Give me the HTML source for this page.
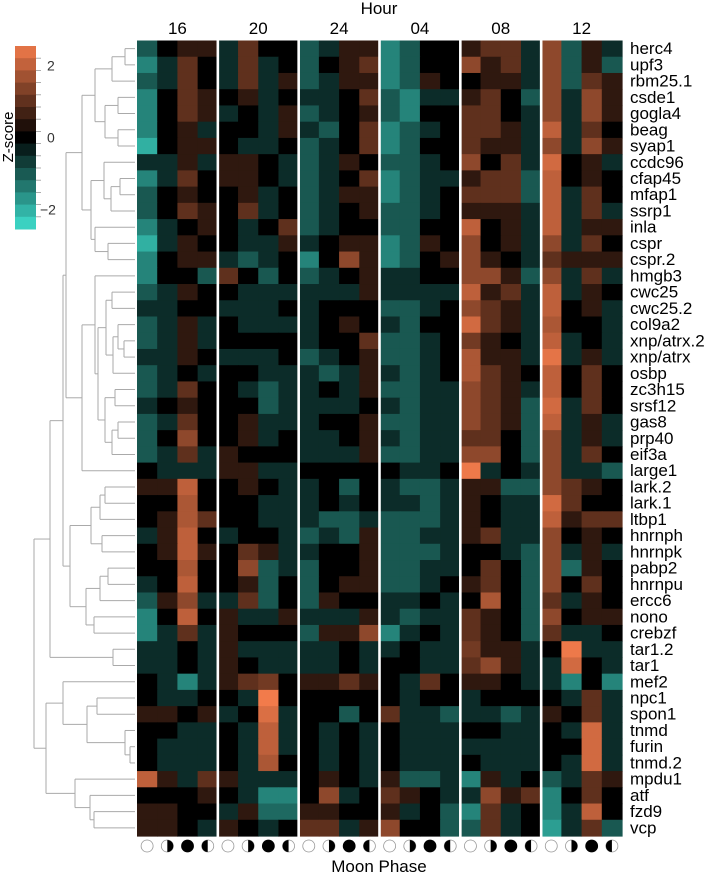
<!DOCTYPE html>
<html><head><meta charset="utf-8"><style>
html,body{margin:0;padding:0;background:#fff;}
svg{display:block;font-family:"Liberation Sans",sans-serif;}
</style></head><body>
<svg id="chart" width="709" height="874" viewBox="0 0 709 874" xmlns="http://www.w3.org/2000/svg">
<text x="379" y="14" font-size="17" text-anchor="middle">Hour</text>
<text x="379" y="872" font-size="17" text-anchor="middle">Moon Phase</text>
<text transform="translate(13,137) rotate(-90)" font-size="15" text-anchor="middle">Z-score</text>
<g id="legend"></g>
<g id="dendro"></g>
<g id="cells"></g>
<g id="labels"></g>
<g id="hours"></g>
<g id="moons"></g>
</svg>
<script>
const genes = ["herc4","upf3","rbm25.1","csde1","gogla4","beag","syap1","ccdc96","cfap45","mfap1","ssrp1","inla","cspr","cspr.2","hmgb3","cwc25","cwc25.2","col9a2","xnp/atrx.2","xnp/atrx","osbp","zc3h15","srsf12","gas8","prp40","eif3a","large1","lark.2","lark.1","ltbp1","hnrnph","hnrnpk","pabp2","hnrnpu","ercc6","nono","crebzf","tar1.2","tar1","mef2","npc1","spon1","tnmd","furin","tnmd.2","mpdu1","atf","fzd9","vcp"];
const hours = ["16","20","24","04","08","12"];
const phases = ["full","first","new","third"];
const legendTicks = [2, 0, -2];
const zscores = [
[-1,0,0.5,0.5, -0.5,1,0,0, -1,-0.5,0.5,0.5, -1.5,-1,0,0, 0.5,1,1,-0.5, 1.5,-1,0.5,-0.5],
[-1.5,-0.5,1,0, -0.5,1,-0.5,0, -1,0,0.5,1, -1.5,-1,0,0, 1.5,0.5,1,-0.5, 1.5,-1,0.5,-1],
[-1,-0.5,1,0, -0.5,1,-0.5,0.5, -1,-0.5,0.5,0.5, -1.5,-1,0.5,0, 0,0.5,0.5,-0.5, 1.5,-1,1,0.5],
[-1.5,0,1,0.5, 0,0.5,-0.5,0, -0.5,-0.5,0,1, -1,-1.5,-0.5,-0.5, 0.5,1,0,-1, 1.5,-0.5,1.5,0.5],
[-1.5,0,1,0.5, -0.5,0,-0.5,0.5, -1,-0.5,0,0.5, -1,-1.5,0,0, 1,1,0,-0.5, 1.5,-0.5,1.5,0.5],
[-1.5,0,0.5,-0.5, 0,0,-0.5,0.5, -0.5,-1,0,1, -1.5,-1,-0.5,0, 1,1,0.5,-0.5, 2,-0.5,1,0],
[-2,0,0.5,0.5, 0,-0.5,-0.5,0, -1,-0.5,0,1, -1.5,-1,0,0, 1,0.5,0.5,-0.5, 1.5,-0.5,1.5,0.5],
[-0.5,-0.5,0.5,-0.5, 0.5,0.5,0,-0.5, -1,-0.5,0.5,0, -1,-1,-0.5,0, 1.5,0,1,-0.5, 2.2,0,0.5,-0.5],
[-1.5,-0.5,1,0, 0.5,0.5,0,-0.5, -1,-0.5,0,1, -1.5,-1,-0.5,-0.5, 0.5,1,1,-1, 2,0,0.5,0],
[-1,0,0.5,0, 0,0.5,-0.5,0, -1,-0.5,0.5,0.5, -1.5,-1,-0.5,0, 1,1,1,-1, 2,-0.5,1,0],
[-1,0,1,0.5, 0,1,-0.5,0, -1,-0.5,0,0.5, -1,-1,-0.5,0, 0.5,0.5,0.5,-0.5, 2,-0.5,1,-0.5],
[-1.5,-0.5,0,0.5, 0,-0.5,0,1, -1,-0.5,0,0, -1,-1,0,0, 2,0,0.5,-0.5, 2,-0.5,0.5,0.5],
[-2,-0.5,0.5,0, 0,-0.5,-0.5,0.5, -0.5,0,0.5,0.5, -1.5,-1,0.5,0, 1.5,0,0.5,-0.5, 1.5,-0.5,1,0],
[-1.5,0,0.5,0.5, -0.5,-1,-0.5,0, -1.5,0,1.5,0.5, -1.5,-1,0,0.5, 1.5,0.5,0,-0.5, 1,0.5,0.5,0.5],
[-1.5,0,0,-1, 1,0,-1,0, -1,-0.5,0,0.5, -0.5,-0.5,0,0, 1.5,1.5,0.5,-1, 1.5,-0.5,1,-0.5],
[-1,-0.5,0.5,0, 0,-0.5,-0.5,-0.5, -0.5,-0.5,-0.5,0.5, -0.5,-0.5,-0.5,-0.5, 2,0.5,1,-0.5, 2,-0.5,0.5,0],
[-0.5,-0.5,0,0, -0.5,-0.5,-0.5,0, -0.5,0,0,0, -1,-1,-0.5,0, 1.5,1,0.5,-0.5, 2,0,0.5,-0.5],
[-1,-0.5,0.5,-0.5, 0,-0.5,-0.5,-0.5, -0.5,0,0.5,0, -0.5,-1,0,0, 2.2,1,0.5,-0.5, 1.8,0,0,-0.5],
[-1,-0.5,0.5,-0.5, 0,0,0,0, -0.5,0,0,1, -1,-1,-0.5,0, 1.2,0.5,0,-0.5, 2,-0.5,0,-0.5],
[-0.5,-0.5,0.5,0, -0.5,-0.5,-0.5,0, -1,-0.5,0,0.5, -1,-1,-0.5,0, 1.8,0.5,0.5,-0.5, 2.4,-0.5,0.5,-0.5],
[-1,-0.5,0,-0.5, 0,0,-0.5,-0.5, -0.5,-1,-0.5,0.5, -0.5,-1,-0.5,0, 1.8,1,0.5,0, 2,0,1,0],
[-1,-0.5,1,0, 0,-0.5,-1,-0.5, -0.5,0,-0.5,0.5, -1,-1,-0.5,-0.5, 1.5,1,0.5,-0.5, 2,0,1,0],
[-0.5,0,0.5,0, 0,0,-1,-0.5, -0.5,-0.5,-0.5,0, -0.5,-1,-0.5,-0.5, 1.5,1,0.5,-1, 2.2,-0.5,1,0],
[-1,-0.5,1,0, 0,0.5,-0.5,-0.5, -0.5,0,0,0.5, -1,-1,-0.5,-0.5, 1.5,1,0.5,-1, 2,-0.5,0.5,-0.5],
[-1,0,1.5,0, 0,0.5,-0.5,0, -0.5,-0.5,0,0.5, -0.5,-1,-0.5,-0.5, 1,1,0,-1, 1.5,-0.5,0.5,-0.5],
[-1,-0.5,1,-0.5, 0.5,0,0,0, -0.5,-0.5,-0.5,0.5, -1,-1,-0.5,-0.5, 1.5,1.5,0,-1, 1.5,-0.5,1,0],
[0,-0.5,-0.5,-0.5, 0.5,0.5,-0.5,-0.5, 0,0,0,0, 0,-0.5,-0.5,0, 2.5,-0.5,0,-0.5, 1.5,-0.5,-0.5,-1],
[0.5,0.5,2,0, 0,0.5,0,-0.5, -0.5,0,-1,0, -0.5,-1,-1,-0.5, 0.5,0.5,-1,-1, 1.5,1,0.5,0],
[0,0,1.8,0, 0,0,-0.5,-0.5, -0.5,0,-0.5,0, -0.5,-0.5,-1,-0.5, 0.5,0,-0.5,-0.5, 2.2,1,0,0],
[0,0.5,1.8,1, 0,0,-0.5,-0.5, -0.5,-1,-1,-0.5, -1,-1,-1,-0.5, 0.5,0,-0.5,-0.5, 2,0.5,1,1],
[-0.5,0.5,2,0, -0.5,0,0,-0.5, -1,-0.5,-1,0.5, -1,-1,-0.5,-0.5, 0.5,1,-0.5,-0.5, 1.5,0,0.5,0],
[0,0.5,2,0.5, 0,1,0.5,-0.5, -0.5,0,0,0.5, -1,-1,-1,-0.5, 0,0,-0.5,-1, 1.5,-0.5,0.5,-0.5],
[0,0,1.8,0, 0,1.5,-1,-0.5, -1,0,0,0.5, -1,-1,-0.5,-0.5, 0,1,0,-1, 1.5,-1.2,0.5,0],
[-0.5,0,2,0, 0,0.5,-1,0, -1,0,0.5,0.5, -1,-1,-0.5,0, 0.5,1,0,-1, 1.5,0,1,0],
[-1,0.5,1.5,-0.5, -0.5,1,-1,0, -1,0.5,0,0, -0.5,-0.5,0,-0.5, 0,1.8,0,-1, 1,-0.5,0.5,0],
[-1.5,0,2,0, 0.5,-0.5,-0.5,0.5, -0.5,-0.5,-0.5,0.5, -0.5,-1,-0.5,-0.5, 1,0.5,0,-1, 1.5,0,0.5,0.5],
[-1.5,-0.5,1,-0.5, 0.5,0,0,0, -1,0.5,0.5,1.5, -1.5,-0.5,0,-0.5, 1,0.5,0,-1, 1,-0.5,-0.5,0],
[-0.5,-0.5,0,-0.5, 0.5,-0.5,-0.5,-0.5, -0.5,-0.5,0,-0.5, -0.5,0,-0.5,-0.5, 1.2,0.5,0.5,-0.5, 0,2.5,-0.5,-0.5],
[-0.5,-0.5,0,-0.5, 0.5,0,-0.5,-0.5, -0.5,-0.5,0,-0.5, 0,0,-0.5,-0.5, 1,1.5,0.5,-0.5, -0.5,2.2,0,-0.5],
[0,-0.5,-1.5,-0.5, 0.5,1,1.2,0, 0.5,0.5,1,0.5, 0,-0.5,1,0, 0.5,0.5,0,-0.5, -0.5,-1.5,0,-1.5],
[0,-0.5,-0.5,0, 0,-0.5,2.6,0, 0,0,0,0, 0,-0.5,0,0, -0.5,0,0,0, 0,-0.5,1,-0.5],
[0.5,0.5,0,0.5, -0.5,0,2.3,-0.5, 0,0,-1,0, 1,-0.5,-0.5,-1, -0.5,-0.5,-1,-0.5, 0.5,0,1,-0.5],
[0,0,-0.5,-0.5, 0,-0.5,2,-0.5, 0,-0.5,0,-0.5, 0,-0.5,-0.5,-0.5, 0,0,-0.5,-0.5, 0,-0.5,2.2,-0.5],
[0,-0.5,-0.5,-0.5, 0,-0.5,2,-0.5, 0,-0.5,0,-0.5, 0,-0.5,-0.5,-0.5, -0.5,-0.5,-0.5,-0.5, 0,0,2.2,-0.5],
[0,-0.5,-0.5,-0.5, 0,-0.5,1.8,0, 0,-0.5,0,-0.5, 0,-0.5,-0.5,-0.5, 0,-0.5,-0.5,-0.5, 0,-0.5,2.2,-0.5],
[2,0.5,-0.5,1, 0.5,-0.5,-0.5,-0.5, 0,0.5,0,-0.5, 0.5,-1,-1,-0.5, -1.5,0.5,-0.5,0, -1,-0.5,1,0.5],
[0,0,0,0.5, 0,-0.5,-1.5,-1.5, 0,1.5,-0.5,0, 1,0.5,0,-0.5, -0.5,1.5,0.5,1, -1.5,0,1,0],
[0.5,0.5,0,0, -0.5,0.5,-1.2,-1.2, 0.5,0.5,0,0, 0.5,-0.5,0,-1, -1.5,1,-0.5,0, -1.5,-0.5,2,0],
[0.5,0.5,0,-0.5, 0.5,0,-0.5,0, 1,1,-0.5,0.5, 1.5,0,0,-1, -1,1,-0.5,0, -1.8,-0.5,1,-1]
];
// dendrogram merges: [height-x, left, right], leaves are row indices
const dendrogram = [34,
  [50,
    [63,
      [66,
        [82, [95,[112,[125,0,1],2],[105,[118,3,4],[118,5,6]]], [91,[104,7,[111,[120,8,9],10]],[95,11,[108,12,13]]]],
        [82, [95,14,[98,[106,[112,15,16],[113,[118,17,[124,18,19]],20]],[105,[115,21,22],[112,[118,23,24],25]]]], 26]
      ],
      [70, [91,[100,[105,27,28],29],[102,30,31]], [86,[100,[108,32,33],34],[94,35,36]]]
    ],
    [113,37,38]
  ],
  [46,
    [63, 39, [87,[97,40,41],[125,42,[130,43,44]]]],
    [75, 45, [90,46,[94,47,48]]]
  ]
];

const NS="http://www.w3.org/2000/svg";
const X0=137, X1=622, Y0=40.5, Y1=836;
const nCol=24, nRow=genes.length;
const cw=(X1-X0)/nCol, rh=(Y1-Y0)/nRow;
const VMAX=2.55;
function xCol(c){return X0+c*cw;}
function yRow(r){return Y0+r*rh;}
function col(v){
  let f=Math.max(-1,Math.min(1,v/VMAX));
  let t=f>=0?[242,123,75]:[63,224,207];
  let a=Math.abs(f);
  return `rgb(${Math.round(t[0]*a)},${Math.round(t[1]*a)},${Math.round(t[2]*a)})`;
}
function mk(tag,attrs,parent){const e=document.createElementNS(NS,tag);for(const k in attrs)e.setAttribute(k,attrs[k]);parent.appendChild(e);return e;}

const cells=document.getElementById('cells');
for(let r=0;r<nRow;r++){
  for(let c=0;c<nCol;c++){
    const e=mk('rect',{x:xCol(c),y:yRow(r),width:cw+0.6,height:rh+0.6,fill:col(zscores[r][c])},cells);
    
    
  }
}
for(let g=1;g<hours.length;g++){
  const e=mk('rect',{x:xCol(g*4)-1.3,y:Y0-1,width:2.6,height:Y1-Y0+2,fill:'#fff'},cells);
  
  
}
const labels=document.getElementById('labels');
genes.forEach((g,r)=>{
  const t=mk('text',{x:630,y:yRow(r)+rh/2+5.5,'font-size':'17'},labels);
  t.textContent=g;
  
  
});
const hrs=document.getElementById('hours');
hours.forEach((h,i)=>{
  const t=mk('text',{x:xCol(i*4+2),y:34,'font-size':'17','text-anchor':'middle'},hrs);
  t.textContent=h;
  
  
});
const moons=document.getElementById('moons');
for(let c=0;c<nCol;c++){
  const p=phases[c%4], cx=xCol(c)+cw/2, cy=846, R=6;
  const g=mk('g',{},moons);
  
  
  mk('circle',{cx:cx,cy:cy,r:R,fill:p==='new'?'#000':'#fff',stroke:p==='new'?'#000':'#999','stroke-width':0.8},g);
  if(p==='first') mk('path',{d:`M${cx},${cy-R} A${R},${R} 0 0 1 ${cx},${cy+R} Z`,fill:'#000'},g);
  if(p==='third') mk('path',{d:`M${cx},${cy-R} A${R},${R} 0 0 0 ${cx},${cy+R} Z`,fill:'#000'},g);
}
const leg=document.getElementById('legend');
const LX=15, LW=21, LT=46, LB=229, nb=15;
const lv=v=>LT+(VMAX-v)/(2*VMAX)*(LB-LT);
for(let i=0;i<nb;i++){
  const v=VMAX-(i+0.5)*(2*VMAX/nb);
  const e=mk('rect',{x:LX,y:LT+i*(LB-LT)/nb,width:LW,height:(LB-LT)/nb+0.5,fill:col(v)},leg);
  
  
}
for(let i=1;i<nb;i++){
  const v=VMAX-i*(2*VMAX/nb);
  const e=mk('line',{x1:LX+LW,x2:LX+LW+5,y1:lv(v),y2:lv(v),stroke:'#999','stroke-width':0.8},leg);
  
  
}
legendTicks.forEach(v=>{
  const t=mk('text',{x:v<0?40:47,y:lv(v)+5,'font-size':'14',fill:'#333'},leg);
  t.textContent=v<0?'\u2212'+Math.abs(v):String(v);
  
  
});
const dg=document.getElementById('dendro');
function line(x1,y1,x2,y2){
  const e=mk('line',{x1:x1,y1:y1,x2:x2,y2:y2,stroke:'#aaa','stroke-width':1},dg);
  
  
}
function draw(n){
  if(typeof n==='number') return {x:X0-2,y:yRow(n)+rh/2};
  const a=draw(n[1]), b=draw(n[2]), x=n[0];
  line(x,a.y,a.x,a.y); line(x,b.y,b.x,b.y); line(x,a.y,x,b.y);
  return {x:x,y:(a.y+b.y)/2};
}
draw(dendrogram);
</script>
</body></html>
